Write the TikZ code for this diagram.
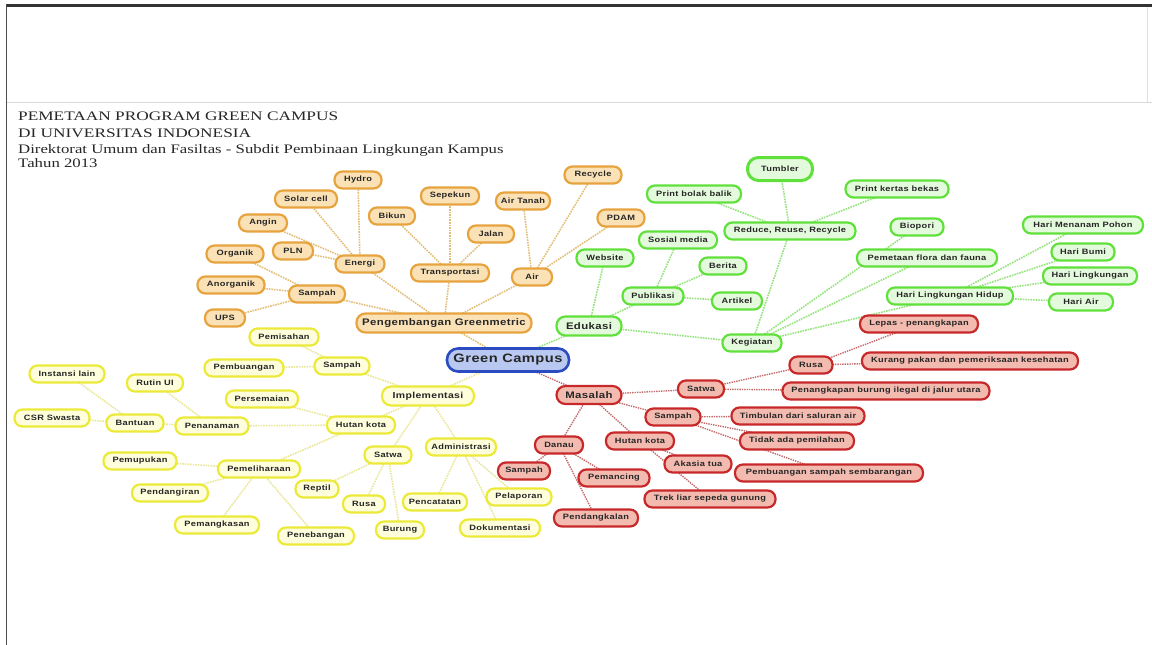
\documentclass[tikz,border=0pt]{standalone}
\usepackage{fontspec}
\setmainfont{Liberation Sans}
\newfontfamily\titlefont[FakeStretch=1.33]{Liberation Serif}
\newfontfamily\subtitlefont[FakeStretch=1.29]{Liberation Serif}
\newfontfamily\nodefont[FakeStretch=1.2,LetterSpace=4]{Liberation Sans}
\usetikzlibrary{backgrounds}
\definecolor{ofill}{HTML}{FBE2B6}
\definecolor{oline}{HTML}{E6A33E}
\definecolor{oedgec}{HTML}{E2BE78}
\definecolor{gfill}{HTML}{E4FADC}
\definecolor{gline}{HTML}{5FE03A}
\definecolor{gedgec}{HTML}{96E27E}
\definecolor{rfill}{HTML}{F3BBB0}
\definecolor{rline}{HTML}{C7282A}
\definecolor{redgec}{HTML}{C46A6A}
\definecolor{yfill}{HTML}{FEFDDC}
\definecolor{yline}{HTML}{ECEA38}
\definecolor{yedgec}{HTML}{E9E79A}
\definecolor{bfill}{HTML}{B9C8F0}
\definecolor{bline}{HTML}{2A4CC0}
\tikzset{
  nbase/.style={draw, rounded corners=8pt, minimum height=17pt, inner xsep=2pt, inner ysep=0pt,
    line width=2.2pt, text=black!85, font=\nodefont\bfseries\fontsize{7.7}{8}\selectfont},
  mw/.style={minimum width=#1pt},
  big/.style={font=\nodefont\bfseries\fontsize{9.5}{10}\selectfont, minimum height=19pt, rounded corners=9pt},
  ob/.style={nbase, fill=ofill, draw=oline},
  gb/.style={nbase, fill=gfill, draw=gline},
  rb/.style={nbase, fill=rfill, draw=rline},
  yb/.style={nbase, fill=yfill, draw=yline},
  oedge/.style={draw=oedgec, line width=1.6pt, densely dotted},
  gedge/.style={draw=gedgec, line width=1.6pt, densely dotted},
  redge/.style={draw=redgec, line width=1.4pt, densely dotted},
  yedge/.style={draw=yedgec, line width=1.6pt, densely dotted},
  ttl/.style={anchor=base west, inner sep=0pt, text=black!85, font=\titlefont\fontsize{13}{14}\selectfont},
  sttl/.style={anchor=base west, inner sep=0pt, text=black!85, font=\subtitlefont\fontsize{13}{14}\selectfont}
}
\begin{document}
\begin{tikzpicture}[x=1pt,y=-1pt]
\useasboundingbox (0,0) rectangle (1152,645);
% frame
\fill[black!80] (6,3.5) rectangle (1152,7);
\draw[black!70, line width=1.2pt] (6.5,3.5) -- (6.5,645);
\draw[black!15, line width=1.5pt] (7,102.5) -- (1152,102.5);
\draw[black!12, line width=1pt] (1147,7) -- (1147,102);
% title
\node[ttl] (t1) at (18,120) {PEMETAAN PROGRAM GREEN CAMPUS};
\node[ttl] (t2) at (18,137) {DI UNIVERSITAS INDONESIA};
\node[sttl] (t3) at (18,153) {Direktorat Umum dan Fasiltas - Subdit Pembinaan Lingkungan Kampus};
\node[sttl] (t4) at (18,167) {Tahun 2013};

% center
\node[nbase, fill=bfill, draw=bline, line width=2.6pt, mw=122, minimum height=23pt, rounded corners=11pt,
  font=\nodefont\bfseries\fontsize{12.2}{13}\selectfont] (gc) at (508,360) {Green Campus};

% orange
\node[ob,big,mw=175] (pg) at (444,323) {Pengembangan Greenmetric};
\node[ob,mw=49] (energi) at (360,264) {Energi};
\node[ob,mw=47] (hydro) at (358,180) {Hydro};
\node[ob,mw=62] (solar) at (306,199) {Solar cell};
\node[ob,mw=48] (angin) at (263,223) {Angin};
\node[ob,mw=40] (pln) at (293,251) {PLN};
\node[ob,mw=56] (osampah) at (317,294) {Sampah};
\node[ob,mw=57] (organik) at (235,254) {Organik};
\node[ob,mw=67] (anorganik) at (231,285) {Anorganik};
\node[ob,mw=40] (ups) at (225,318) {UPS};
\node[ob,mw=78] (transport) at (450,273) {Transportasi};
\node[ob,mw=46] (bikun) at (392,216) {Bikun};
\node[ob,mw=58] (sepekun) at (450,196) {Sepekun};
\node[ob,mw=46] (jalan) at (491,234) {Jalan};
\node[ob,mw=40] (air) at (532,277) {Air};
\node[ob,mw=54] (airtanah) at (523,201) {Air Tanah};
\node[ob,mw=57] (recycle) at (593,175) {Recycle};
\node[ob,mw=47] (pdam) at (621,218) {PDAM};

% green
\node[gb,big,mw=65] (edukasi) at (589,326) {Edukasi};
\node[gb,mw=57] (website) at (605,258) {Website};
\node[gb,mw=61] (publikasi) at (653,296) {Publikasi};
\node[gb,mw=78] (sosmed) at (678,240) {Sosial media};
\node[gb,mw=47] (berita) at (723,266) {Berita};
\node[gb,mw=50] (artikel) at (737,301) {Artikel};
\node[gb,mw=59] (kegiatan) at (752,343) {Kegiatan};
\node[gb,mw=131] (rrr) at (790,231) {Reduce, Reuse, Recycle};
\node[gb,mw=65,minimum height=23pt,rounded corners=11pt,line width=3pt] (tumbler) at (780,169) {Tumbler};
\node[gb,mw=94] (pbb) at (694,194) {Print bolak balik};
\node[gb,mw=103] (pkb) at (897,189) {Print kertas bekas};
\node[gb,mw=53] (biopori) at (917,227) {Biopori};
\node[gb,mw=140] (pemetaan) at (927,258) {Pemetaan flora dan fauna};
\node[gb,mw=126] (hlh) at (950,296) {Hari Lingkungan Hidup};
\node[gb,mw=120] (hmp) at (1083,225) {Hari Menanam Pohon};
\node[gb,mw=63] (hbumi) at (1083,252) {Hari Bumi};
\node[gb,mw=94] (hling) at (1090,276) {Hari Lingkungan};
\node[gb,mw=64] (hair) at (1081,302) {Hari Air};

% red
\node[rb,big,mw=65,minimum height=18pt] (masalah) at (589,395) {Masalah};
\node[rb,mw=46] (satwa) at (701,389) {Satwa};
\node[rb,mw=43] (rusa) at (811,365) {Rusa};
\node[rb,mw=118] (lepas) at (919,324) {Lepas - penangkapan};
\node[rb,mw=216] (kurang) at (970,361) {Kurang pakan dan pemeriksaan kesehatan};
\node[rb,mw=207] (penangkapan) at (886,391) {Penangkapan burung ilegal di jalur utara};
\node[rb,mw=55] (rsampah) at (673,417) {Sampah};
\node[rb,mw=133] (timbulan) at (798,416) {Timbulan dari saluran air};
\node[rb,mw=114] (tidak) at (797,441) {Tidak ada pemilahan};
\node[rb,mw=188] (rpembuangan) at (829,473) {Pembuangan sampah sembarangan};
\node[rb,mw=68] (rhutan) at (640,441) {Hutan kota};
\node[rb,mw=67] (akasia) at (698,464) {Akasia tua};
\node[rb,mw=131] (trek) at (710,499) {Trek liar sepeda gunung};
\node[rb,mw=48] (danau) at (559,445) {Danau};
\node[rb,mw=52] (rsampah2) at (524,471) {Sampah};
\node[rb,mw=71] (pemancing) at (614,478) {Pemancing};
\node[rb,mw=84] (pendangkalan) at (596,518) {Pendangkalan};

% yellow
\node[yb,mw=92,minimum height=19pt,rounded corners=9pt,font=\nodefont\bfseries\fontsize{8.7}{9}\selectfont] (impl) at (428,396) {Implementasi};
\node[yb,mw=55] (ysampah) at (342,366) {Sampah};
\node[yb,mw=69] (pemisahan) at (284,337) {Pemisahan};
\node[yb,mw=79] (ypembuangan) at (244,368) {Pembuangan};
\node[yb,mw=68] (yhutan) at (361,425) {Hutan kota};
\node[yb,mw=72] (persemaian) at (262,399) {Persemaian};
\node[yb,mw=73] (penanaman) at (212,426) {Penanaman};
\node[yb,mw=56] (rutin) at (155,383) {Rutin UI};
\node[yb,mw=57] (bantuan) at (135,423) {Bantuan};
\node[yb,mw=75] (instansi) at (67,374) {Instansi lain};
\node[yb,mw=75] (csr) at (52,418) {CSR Swasta};
\node[yb,mw=82] (pemeliharaan) at (259,469) {Pemeliharaan};
\node[yb,mw=73] (pemupukan) at (140,461) {Pemupukan};
\node[yb,mw=76] (pendangiran) at (170,493) {Pendangiran};
\node[yb,mw=84] (pemangkasan) at (217,525) {Pemangkasan};
\node[yb,mw=76] (penebangan) at (316,536) {Penebangan};
\node[yb,mw=47] (ysatwa) at (388,455) {Satwa};
\node[yb,mw=43] (reptil) at (317,489) {Reptil};
\node[yb,mw=42] (yrusa) at (364,504) {Rusa};
\node[yb,mw=48] (burung) at (400,530) {Burung};
\node[yb,mw=70] (admin) at (461,447) {Administrasi};
\node[yb,mw=64] (pencatatan) at (435,502) {Pencatatan};
\node[yb,mw=65] (pelaporan) at (519,497) {Pelaporan};
\node[yb,mw=80] (dokumentasi) at (500,528) {Dokumentasi};

\begin{scope}[on background layer]
% orange
\foreach \a/\b in {gc/pg, pg/energi, pg/osampah, pg/transport, pg/air,
  energi/hydro, energi/solar, energi/angin, energi/pln,
  osampah/organik, osampah/anorganik, osampah/ups,
  transport/bikun, transport/sepekun, transport/jalan,
  air/airtanah, air/recycle, air/pdam}
  \draw[oedge] (\a.center) -- (\b.center);
% green
\foreach \a/\b in {gc/edukasi, edukasi/website, edukasi/publikasi, edukasi/kegiatan,
  publikasi/sosmed, publikasi/berita, publikasi/artikel,
  kegiatan/rrr, kegiatan/biopori, kegiatan/pemetaan, kegiatan/hlh,
  rrr/tumbler, rrr/pbb, rrr/pkb,
  hlh/hmp, hlh/hbumi, hlh/hling, hlh/hair}
  \draw[gedge] (\a.center) -- (\b.center);
% red
\foreach \a/\b in {gc/masalah, masalah/satwa, masalah/rsampah, masalah/rhutan, masalah/danau,
  satwa/rusa, satwa/penangkapan, rusa/lepas, rusa/kurang,
  rsampah/timbulan, rsampah/tidak, rsampah/rpembuangan,
  rhutan/akasia, rhutan/trek,
  danau/rsampah2, danau/pemancing, danau/pendangkalan}
  \draw[redge] (\a.center) -- (\b.center);
% yellow
\foreach \a/\b in {gc/impl, impl/ysampah, impl/yhutan, impl/ysatwa, impl/admin,
  ysampah/pemisahan, ysampah/ypembuangan,
  yhutan/persemaian, yhutan/penanaman, yhutan/pemeliharaan,
  penanaman/rutin, penanaman/bantuan, bantuan/instansi, bantuan/csr,
  pemeliharaan/pemupukan, pemeliharaan/pendangiran, pemeliharaan/pemangkasan, pemeliharaan/penebangan,
  ysatwa/reptil, ysatwa/yrusa, ysatwa/burung,
  admin/pencatatan, admin/pelaporan, admin/dokumentasi}
  \draw[yedge] (\a.center) -- (\b.center);
\end{scope}
\end{tikzpicture}
\end{document}
